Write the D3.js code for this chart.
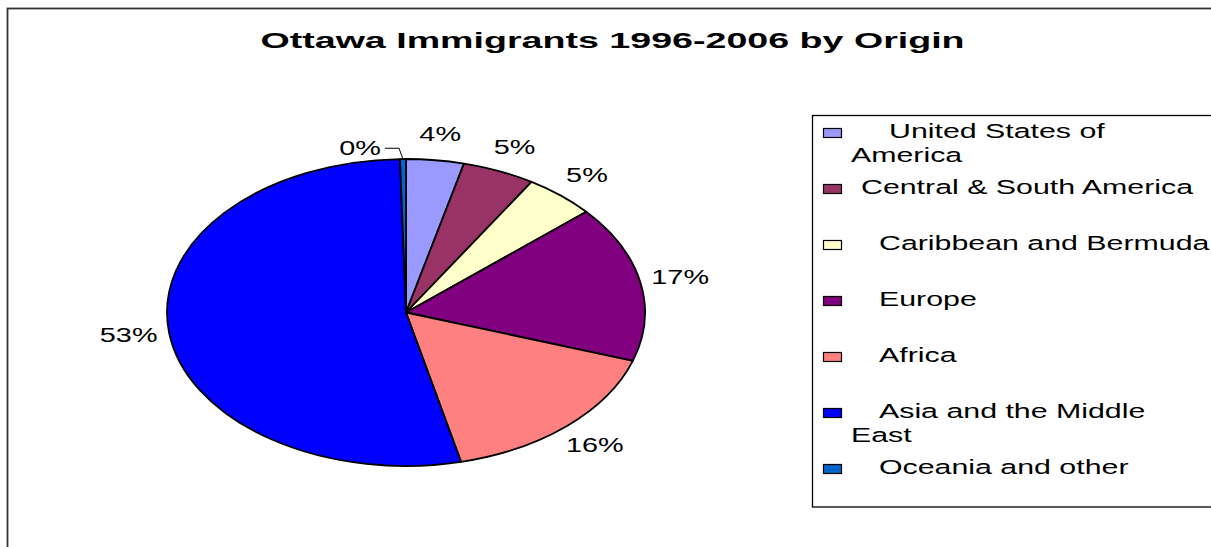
<!DOCTYPE html>
<html>
<head>
<meta charset="utf-8">
<script src="https://cdn.jsdelivr.net/npm/d3@7"></script>
<style>
  html, body { margin: 0; padding: 0; background: #fff; overflow: hidden; }
  svg { display: block; font-family: Arial, "Liberation Sans", sans-serif; }
</style>
</head>
<body>
<svg id="chart" width="1211" height="547"></svg>
<script>
// Ottawa immigrants 1996-2006, share by region of origin (percent)
const categories = [
  "United States of\nAmerica",
  "Central & South America",
  "Caribbean and Bermuda",
  "Europe",
  "Africa",
  "Asia and the Middle\nEast",
  "Oceania and other"
];
const shares = [3.9, 4.9, 4.8, 16.5, 16.2, 53.3, 0.4];
const colors = ["#9999FF", "#993366", "#FFFFCC", "#800080", "#FF8080", "#0000FF", "#0066CC"];
const title = "Ottawa Immigrants 1996-2006 by Origin";

const svg = d3.select("#chart");
const W = 1211, H = 547;

// Chart frame (extends beyond the right and bottom edges)
svg.append("rect")
  .attr("x", 7.5).attr("y", 8.5)
  .attr("width", W + 20).attr("height", H + 20)
  .attr("fill", "#fff").attr("stroke", "#333").attr("stroke-width", 1.8);

// Text is drawn horizontally widened
function wideText(parent, x, y, str, size, opts = {}) {
  return parent.append("text")
    .attr("transform", `translate(${x},${y}) scale(${opts.sx || 1.48},1)`)
    .attr("font-size", size)
    .attr("font-weight", opts.weight || "normal")
    .attr("text-anchor", opts.anchor || "start")
    .attr("dy", opts.dy || null)
    .attr("fill", "#000")
    .text(str);
}

// Title
wideText(svg, 612.5, 48, title, 22, { weight: "bold", anchor: "middle", sx: 1.71 });

// Pie: drawn as a circle of radius ry and stretched horizontally to an ellipse
const cx = 406, cy = 312.5, rx = 239, ry = 153.5;
const stretch = rx / ry;

const pie = d3.pie().sort(null).value(d => d)(shares);
const arc = d3.arc().innerRadius(0).outerRadius(ry);

const pieG = svg.append("g")
  .attr("transform", `translate(${cx},${cy}) scale(${stretch},1)`);

pieG.selectAll("path")
  .data(pie)
  .join("path")
  .attr("d", arc)
  .attr("fill", (d, i) => colors[i])
  .attr("stroke", "#000")
  .attr("stroke-width", 1.8)
  .attr("stroke-linejoin", "round")
  .attr("vector-effect", "non-scaling-stroke");

// Percent labels
const total = d3.sum(shares);
const fmt = v => Math.round(v / total * 100) + "%";
const labelR = 1.17;

pie.forEach((d, i) => {
  const a = (d.startAngle + d.endAngle) / 2;
  if (i === pie.length - 1) {
    // The thin last slice gets a leader line to a label on the left
    const px = cx + rx * Math.sin(a), py = cy - ry * Math.cos(a);
    const ex = cx + rx * Math.sin(a) * 1.0 - 4, ey = cy - ry * 1.07;
    svg.append("polyline")
      .attr("points", `${px},${py} ${ex},${ey} ${ex - 14},${ey}`)
      .attr("fill", "none").attr("stroke", "#000").attr("stroke-width", 1);
    wideText(svg, ex - 18, ey, fmt(d.value), 19.5, { anchor: "end", dy: "0.35em" });
  } else {
    const lx = cx + rx * labelR * Math.sin(a);
    const ly = cy - ry * labelR * Math.cos(a);
    wideText(svg, lx, ly, fmt(d.value), 19.5, { anchor: "middle", dy: "0.35em" });
  }
});

// Legend
const legX = 812.5, legY = 115.5;
svg.append("rect")
  .attr("x", legX).attr("y", legY)
  .attr("width", W - legX + 20).attr("height", 391.5)
  .attr("fill", "#fff").attr("stroke", "#000").attr("stroke-width", 1.3);

const indents = [38, 10, 28, 28, 28, 28, 28];
const legendItems = svg.append("g").selectAll("g")
  .data(categories)
  .join("g")
  .attr("transform", (d, i) => `translate(0,${128.5 + i * 56})`);

legendItems.append("rect")
  .attr("x", 823.5).attr("y", 0)
  .attr("width", 18).attr("height", 9)
  .attr("fill", (d, i) => colors[i])
  .attr("stroke", "#000").attr("stroke-width", 1.2);

legendItems.each(function (d, i) {
  const g = d3.select(this);
  d.split("\n").forEach((line, k) => {
    const x = k === 0 ? 851 + indents[i] : 851;
    wideText(g, x, 9.5 + k * 24, line, 20.5);
  });
});
</script>
</body>
</html>
